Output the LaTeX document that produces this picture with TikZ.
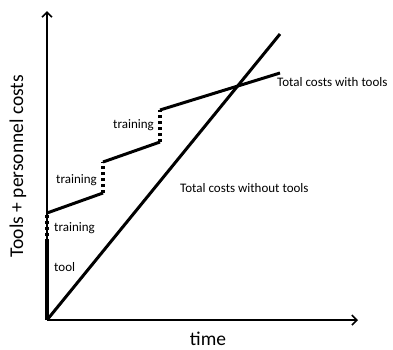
\documentclass[tikz,border=0pt]{standalone}
\usepackage{fontspec}
\setmainfont{Carlito}
\usetikzlibrary{arrows.meta}
\begin{document}
\begin{tikzpicture}[x=1pt,y=-1pt,
  axis/.style={line width=1.8pt,-{Straight Barb[length=5pt,width=10pt,line width=1.6pt]}},
  cost/.style={line width=3pt},
  jump/.style={line width=3.5pt,dash pattern=on 3pt off 3pt},
  lbl/.style={font=\fontsize{13}{15}\selectfont,inner sep=0pt},
  big/.style={font=\fontsize{19.5}{23}\selectfont,inner sep=0pt}]
\useasboundingbox (0,0) rectangle (393,349);
\coordinate (O) at (47,320);
\coordinate (ytop) at (47,11);
\coordinate (xend) at (358,320);
\draw[axis] (O) -- (ytop);
\draw[axis] (O) -- (xend);
% tool + initial training
\coordinate (t0) at (47,242);
\coordinate (a0) at (47,213);
\draw[line width=3.5pt] (O) -- (t0);
\draw[jump] (t0) -- (a0);
% with tools
\coordinate (a1) at (103,193);
\coordinate (b1) at (103,162);
\coordinate (a2) at (160,142);
\coordinate (b2) at (160,110);
\coordinate (c) at (280,73);
\draw[cost] (a0) -- (a1);
\draw[jump] (a1) -- (b1);
\draw[cost] (b1) -- (a2);
\draw[jump] (a2) -- (b2);
\draw[cost] (b2) -- (c);
% without tools
\coordinate (w) at (280,34);
\draw[cost] (O) -- (w);
% labels
\node[lbl,anchor=west] (ltool) at (54,267) {tool};
\node[lbl,anchor=west] (ltr0) at (54,228) {training};
\node[lbl,anchor=east] (ltr1) at (97,180) {training};
\node[lbl,anchor=east] (ltr2) at (154,125) {training};
\node[lbl,anchor=west] (lwith) at (277,82) {Total costs with tools};
\node[lbl,anchor=west] (lwithout) at (180,188) {Total costs without tools};
\node[big] (ltime) at (208,339) {time};
\node[big,rotate=90] (ly) at (18,166) {Tools + personnel costs};
\end{tikzpicture}
\end{document}
